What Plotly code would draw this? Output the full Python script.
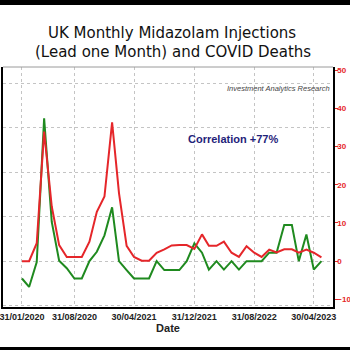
import pandas as pd
import plotly.graph_objects as go

# ---- data ----
dates = pd.date_range("2020-01-31", periods=41, freq="ME")
midazolam = [-3.9, -5.8, -0.2, 32.1, 8.8, 0.1, -1.6, -3.9, -3.9, 0.0,
             2.1, 5.8, 12.1, 0.0, -2.0, -3.9, -3.9, -3.9, 0.0, -2.0,
             -2.0, -2.0, 0.0, 4.0, 1.9, -1.9, 0.0, -1.9, 0.0, -1.9,
             0.0, 0.0, 0.0, 1.9, 1.9, 8.1, 8.1, 0.0, 6.0, -1.9, 0.0]
covid_deaths = [0.0, 0.0, 4.7, 33.9, 14.3, 4.2, 1.1, 1.1, 1.1, 5.1,
                12.9, 16.9, 36.3, 17.8, 4.0, 1.1, 0.1, 0.1, 2.2, 3.1,
                4.1, 4.2, 4.2, 3.2, 7.0, 4.0, 4.0, 5.1, 2.2, 1.1,
                3.9, 2.2, 1.1, 3.0, 2.3, 3.1, 3.1, 2.2, 3.0, 2.2, 1.0]
x_tickvals = ["2020-01-31", "2020-08-31", "2021-04-30", "2021-12-31", "2022-08-31", "2023-04-30"]
x_ticktext = ["31/01/2020", "31/08/2020", "30/04/2021", "31/12/2021", "31/08/2022", "30/04/2023"]
y2_tickvals = [-10, 0, 10, 20, 30, 40, 50]

fig = go.Figure()
fig.add_trace(go.Scatter(x=dates, y=midazolam, mode="lines", yaxis="y",
                         line=dict(color="#1f8a1f", width=2), name="Midazolam"))
fig.add_trace(go.Scatter(x=dates, y=covid_deaths, mode="lines", yaxis="y2",
                         line=dict(color="#e5262a", width=2), name="COVID Deaths"))

axfont = dict(family="Liberation Sans, Arial, sans-serif", size=9, color="#222", weight="bold")
fig.update_layout(
    width=350, height=350,
    margin=dict(l=3, r=17, t=67, b=43),
    paper_bgcolor="white", plot_bgcolor="white",
    showlegend=False,
    xaxis=dict(range=["2019-11-15", "2023-07-17"], tickvals=x_tickvals, ticktext=x_ticktext,
               tickfont=axfont, showgrid=True, gridcolor="#c4c4c4", griddash="dot", gridwidth=1,
               showline=True, linecolor="black", linewidth=1.5, ticks="", zeroline=False,
               automargin=False, ticklabeloverflow="allow",
               title=dict(text="Date", font=dict(family="Liberation Sans, Arial, sans-serif",
                                                 size=11, color="#222", weight="bold"), standoff=3)),
    yaxis=dict(range=[-10.3, 43.6], dtick=10, tick0=0, showticklabels=False, showgrid=True,
               gridcolor="#c4c4c4", griddash="dot", gridwidth=1, zeroline=False, automargin=False,
               showline=True, linecolor="black", linewidth=1.5, ticks=""),
    yaxis2=dict(range=[-12.0, 50.8], overlaying="y", side="right", tickvals=y2_tickvals,
                tickfont=dict(family="Liberation Sans, Arial, sans-serif", size=8,
                              color="#e5262a", weight="bold"),
                automargin=False, ticklabeloverflow="allow", ticklabelstandoff=-2,
                showgrid=False, zeroline=False, showline=True, linecolor="black", linewidth=1.5,
                ticks="outside", ticklen=3, tickcolor="#e5262a", tickwidth=1),
)

fig.add_annotation(text="UK Monthly Midazolam Injections", xref="paper", yref="paper",
                   x=0.513, y=1.1417, xanchor="center", yanchor="middle", showarrow=False,
                   font=dict(family="DejaVu Sans", size=15, color="#111"))
fig.add_annotation(text="(Lead one Month) and COVID Deaths", xref="paper", yref="paper",
                   x=0.516, y=1.0625, xanchor="center", yanchor="middle", showarrow=False,
                   font=dict(family="DejaVu Sans", size=15, color="#111"))
fig.add_annotation(text="<i>Investment Analytics Research</i>", xref="paper", yref="paper",
                   x=0.997, y=0.9125, xanchor="right", yanchor="middle", showarrow=False,
                   font=dict(family="Liberation Sans, Arial, sans-serif", size=7.5, color="#444"))
fig.add_annotation(text="<b>Correlation +77%</b>", xref="paper", yref="paper",
                   x=0.696, y=0.70, xanchor="center", yanchor="middle", showarrow=False,
                   font=dict(family="Liberation Sans, Arial, sans-serif", size=11, color="#1f237a"))

# top border of plot area and black frame bars
fig.add_shape(type="line", xref="paper", yref="paper", x0=0, x1=1, y0=1, y1=1,
              line=dict(color="#9a9a9a", width=1))
fig.add_shape(type="rect", xref="paper", yref="paper", x0=-0.02, x1=1.07, y0=1.258, y1=1.29,
              fillcolor="black", line=dict(width=0))
fig.add_shape(type="rect", xref="paper", yref="paper", x0=-0.02, x1=1.07, y0=-0.19, y1=-0.1667,
              fillcolor="black", line=dict(width=0))

fig.write_html("out.html")
